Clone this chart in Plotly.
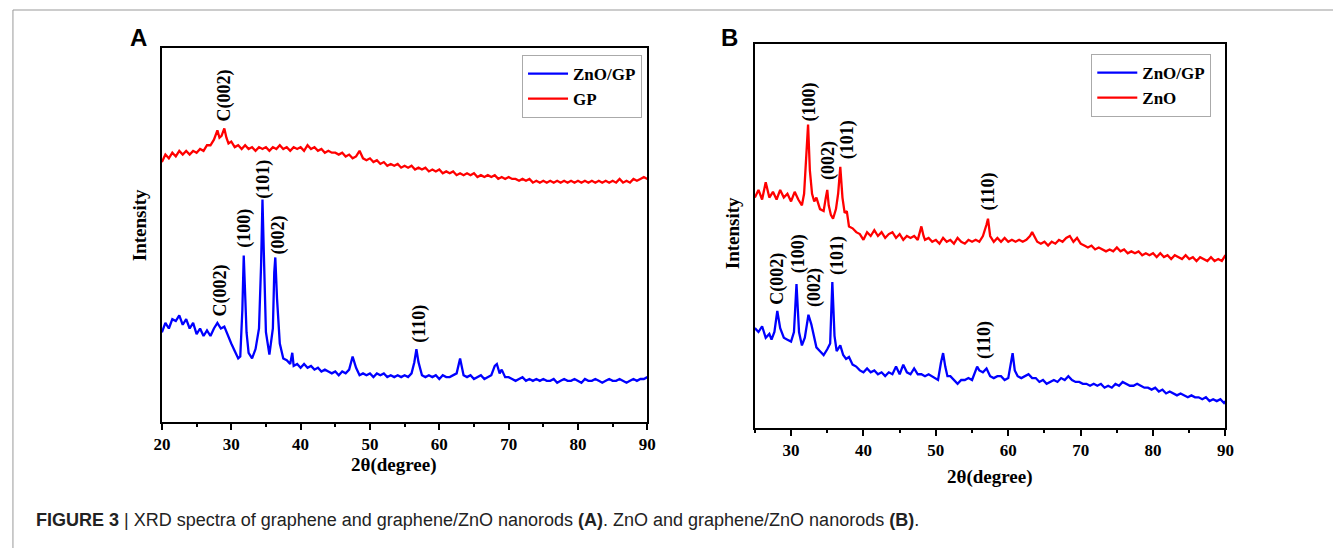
import plotly.graph_objects as go

# ---------------- data (2theta in degrees, intensity in arbitrary units) ----------------
# Panel A : ZnO/GP (blue)
a_znogp = [
    (20, 24), (20.5, 26.5), (21, 25), (21.5, 27.5), (22, 27), (22.5, 28.5), (23, 26), (23.5, 27.5),
    (24, 25), (24.5, 26.5), (25, 23.5), (25.5, 25), (26, 23), (26.5, 24.5), (27, 23), (27.5, 25),
    (28, 26.5), (28.5, 25), (29, 25.5), (29.5, 23), (30, 21), (30.5, 19), (31, 17), (31.3, 17.5),
    (31.6, 30), (31.8, 44.5), (32.0, 36), (32.2, 24), (32.5, 18.5), (33, 17), (33.5, 19.5),
    (34.0, 25), (34.3, 42), (34.5, 59.5), (34.7, 45), (35.0, 24), (35.5, 18), (36.0, 25),
    (36.2, 40), (36.35, 44), (36.6, 33), (37.0, 21), (37.5, 17), (38, 16.5), (38.5, 15.5),
    (38.8, 18.5), (39, 15), (39.5, 15.5), (40, 14.5), (40.5, 15.5), (41, 14.5), (41.5, 15),
    (42, 14), (42.5, 14.5), (43, 13.5), (43.5, 14), (44, 13.5), (44.5, 13), (45, 13.5), (45.5, 12.5),
    (46, 13.5), (46.5, 13), (47, 14), (47.5, 17.5), (48, 14.5), (48.5, 12.5), (49, 13), (49.5, 12.5),
    (50, 13), (50.5, 12), (51, 13), (51.5, 12.5), (52, 13), (52.5, 12), (53, 12.5), (53.5, 12),
    (54, 12.5), (54.5, 12), (55, 12.5), (55.5, 12), (56, 13), (56.4, 16), (56.7, 19.5), (57, 16),
    (57.5, 12.5), (58, 12), (58.5, 12.5), (59, 12), (59.5, 12.5), (60, 11.5), (60.5, 12.5), (61, 12),
    (61.5, 12), (62, 12.5), (62.5, 13), (63, 17), (63.3, 14), (63.5, 12.5), (64, 12), (64.5, 12.5),
    (65, 11.5), (65.5, 12), (66, 12.5), (66.5, 11.5), (67, 12), (67.5, 12.5), (68, 15), (68.3, 15.5),
    (68.7, 13), (69, 14), (69.5, 12), (70, 12), (70.5, 11.5), (71, 11), (71.5, 11.5), (72, 12),
    (72.5, 11), (73, 11.5), (73.5, 11), (74, 11.5), (74.5, 11), (75, 11.5), (75.5, 11), (76, 11),
    (76.5, 11.5), (77, 10.5), (77.5, 11), (78, 11.5), (78.5, 11), (79, 11), (79.5, 11.5), (80, 11),
    (80.5, 10.5), (81, 11.5), (81.5, 11), (82, 11), (82.5, 11.5), (83, 11), (83.5, 10.5), (84, 11),
    (84.5, 11.5), (85, 11), (85.5, 11), (86, 11.5), (86.5, 11), (87, 10.5), (87.5, 11), (88, 11.5),
    (88.5, 11), (89, 11.5), (89.5, 11.5), (90, 12),
]

# Panel A : GP (red)
a_gp = [
    (20, 69.5), (20.5, 71.5), (21, 70.5), (21.5, 72), (22, 71), (22.5, 72.5), (23, 71.5), (23.5, 72.5),
    (24, 71.5), (24.5, 72.5), (25, 72), (25.5, 73), (26, 72.5), (26.5, 74), (27, 74), (27.5, 75.5),
    (28, 78), (28.3, 76), (28.6, 76.5), (29, 78.5), (29.3, 76), (29.6, 74.5), (30, 75), (30.5, 73.5),
    (31, 74), (31.5, 73), (32, 74), (32.5, 73), (33, 73.5), (33.5, 72.5), (34, 73.5), (34.5, 73),
    (35, 73.5), (35.5, 72.5), (36, 73.5), (36.5, 73), (37, 74), (37.5, 73), (38, 73.5), (38.5, 72.5),
    (39, 73.5), (39.5, 73), (40, 73.5), (40.5, 72.5), (41, 74), (41.5, 73), (42, 73.5), (42.5, 72.5),
    (43, 73), (43.5, 72), (44, 72.5), (44.5, 72), (45, 72), (45.5, 71.5), (46, 72), (46.5, 71),
    (47, 71.5), (47.5, 70.5), (48, 71), (48.5, 72.5), (49, 70.5), (49.5, 70), (50, 70.5), (50.5, 69.5),
    (51, 70), (51.5, 69), (52, 69.5), (52.5, 68.5), (53, 69), (53.5, 68.5), (54, 69), (54.5, 68),
    (55, 68.5), (55.5, 68), (56, 68.5), (56.5, 67.5), (57, 68), (57.5, 67.5), (58, 68), (58.5, 67),
    (59, 67.5), (59.5, 67), (60, 67.5), (60.5, 66.5), (61, 67), (61.5, 66.5), (62, 67), (62.5, 66),
    (63, 66.5), (63.5, 66), (64, 66.5), (64.5, 66), (65, 66.5), (65.5, 65.5), (66, 66), (66.5, 65.5),
    (67, 66), (67.5, 65.5), (68, 66), (68.5, 65), (69, 65.5), (69.5, 65), (70, 65.5), (70.5, 65),
    (71, 65), (71.5, 64.5), (72, 65), (72.5, 64.5), (73, 65), (73.5, 64), (74, 64.5), (74.5, 64),
    (75, 64.5), (75.5, 64), (76, 64.5), (76.5, 64), (77, 64.5), (77.5, 64), (78, 64.5), (78.5, 64),
    (79, 64.5), (79.5, 64), (80, 64.5), (80.5, 64), (81, 64.5), (81.5, 64), (82, 64.5), (82.5, 64),
    (83, 64.5), (83.5, 64), (84, 64.5), (84.5, 64), (85, 64.5), (85.5, 64), (86, 65), (86.5, 64),
    (87, 64.5), (87.5, 64), (88, 65), (88.5, 64.5), (89, 65), (89.5, 65.5), (90, 65),
]

# Panel B : ZnO/GP (blue)
b_znogp = [
    (25, 26), (25.5, 25), (26, 26.5), (26.5, 23.5), (27, 24.5), (27.3, 23), (27.7, 25), (28.1, 30.5),
    (28.5, 26), (29, 23.5), (29.5, 23), (30, 22.5), (30.4, 25), (30.75, 37.5), (31.1, 25), (31.5, 21.5),
    (31.9, 23.5), (32.4, 29.5), (32.8, 27), (33.2, 23), (33.5, 21), (34, 20), (34.5, 19), (35, 20.5),
    (35.4, 22), (35.7, 38), (36.0, 24), (36.3, 20), (36.8, 21.5), (37.2, 19), (37.6, 18), (38, 18.5),
    (38.5, 16.5), (39, 16), (39.5, 15), (40, 14.5), (40.5, 15.5), (41, 14.5), (41.5, 15), (42, 14),
    (42.5, 14.5), (43, 13.5), (43.5, 14.5), (44, 14), (44.5, 16), (45, 14), (45.5, 16.5), (46, 14.5),
    (46.5, 14), (47, 15.5), (47.5, 14), (48, 14), (48.5, 13.5), (49, 14), (49.5, 13.5), (50, 13),
    (50.3, 12.5), (50.7, 17), (51.0, 19.5), (51.3, 16), (51.6, 13.5), (52, 13.5), (52.5, 12.5),
    (53, 11.5), (53.5, 12.5), (54, 12.5), (54.5, 13), (55, 12.5), (55.4, 14.5), (55.7, 16), (56.0, 15),
    (56.5, 14.5), (57, 15.5), (57.5, 13.5), (58, 13), (58.5, 13.5), (59, 13.5), (59.5, 12.5), (60, 13),
    (60.3, 16), (60.6, 19.5), (60.9, 15), (61.3, 13.5), (61.8, 13), (62.3, 13.5), (62.8, 14), (63.3, 13),
    (63.8, 13), (64.3, 12), (64.8, 12.5), (65.3, 11.5), (65.8, 12), (66.3, 12.5), (66.8, 12), (67.3, 13),
    (67.8, 12.5), (68.3, 13.5), (68.8, 12.5), (69.3, 12), (69.8, 12), (70.3, 11.5), (70.8, 11.5),
    (71.3, 11), (71.8, 11.5), (72.3, 11), (72.8, 11.5), (73.3, 10.5), (73.8, 11), (74.3, 10.5),
    (74.8, 11.5), (75.3, 11), (75.8, 12), (76.3, 11.5), (76.8, 11), (77.3, 11), (77.8, 11.5), (78.3, 11),
    (78.8, 10.5), (79.3, 10.5), (79.8, 10), (80.3, 10.5), (80.8, 9.5), (81.3, 10), (81.8, 9), (82.3, 9.5),
    (82.8, 9), (83.3, 8.5), (83.8, 9), (84.3, 8.5), (84.8, 8), (85.3, 8.5), (85.8, 8), (86.3, 8),
    (86.8, 7.5), (87.3, 8), (87.8, 7), (88.3, 7.5), (88.8, 7), (89.3, 7.5), (89.8, 6.5), (90, 7),
]

# Panel B : ZnO (red)
b_zno = [
    (25, 60), (25.5, 62), (26, 59.5), (26.5, 64), (27, 60), (27.5, 61.5), (28, 59.5), (28.5, 62),
    (29, 60), (29.5, 61), (30, 59), (30.5, 61.5), (31, 59.5), (31.5, 58), (31.8, 61), (32.1, 70),
    (32.35, 79), (32.6, 67), (32.9, 61), (33.2, 59), (33.5, 60), (34, 57), (34.5, 56.5), (34.8, 60),
    (35.0, 62), (35.2, 58), (35.5, 55.5), (35.8, 54.5), (36.2, 57), (36.5, 61), (36.8, 68), (37.1, 60),
    (37.4, 56), (37.7, 56.5), (38, 52.5), (38.5, 52), (39, 51), (39.5, 50.5), (40, 49), (40.5, 51),
    (41, 50), (41.5, 51.5), (42, 50), (42.5, 51), (43, 49.5), (43.5, 50.5), (44, 51), (44.5, 49.5),
    (45, 50.5), (45.5, 49), (46, 50), (46.5, 49.5), (47, 50), (47.5, 49), (48, 52.5), (48.3, 50),
    (48.5, 49), (49, 49.5), (49.5, 48.5), (50, 49), (50.5, 48), (51, 49.5), (51.5, 48.5), (52, 49),
    (52.5, 48), (53, 49.5), (53.5, 48.5), (54, 48), (54.5, 49), (55, 48.5), (55.5, 49), (56, 48.5),
    (56.5, 50), (57, 53), (57.2, 54.5), (57.5, 50), (58, 48.5), (58.5, 49.5), (59, 48.5), (59.5, 49.5),
    (60, 48.5), (60.5, 49), (61, 48.5), (61.5, 49), (62, 48.5), (62.5, 49), (63, 50), (63.3, 51),
    (63.7, 49.5), (64, 48.5), (64.5, 48), (65, 48.5), (65.5, 47.5), (66, 48.5), (66.5, 48), (67, 49),
    (67.5, 48.5), (68, 49.5), (68.5, 50), (69, 48.5), (69.5, 49.5), (70, 48), (70.5, 47.5), (71, 47),
    (71.5, 47.5), (72, 46.5), (72.5, 47), (73, 46.5), (73.5, 46), (74, 46.5), (74.5, 46), (75, 47),
    (75.5, 46), (76, 46.5), (76.5, 45.5), (77, 46), (77.5, 45.5), (78, 46), (78.5, 45), (79, 45.5),
    (79.5, 45), (80, 45.5), (80.5, 44.5), (81, 45.5), (81.5, 44.5), (82, 45), (82.5, 44), (83, 45),
    (83.5, 44.5), (84, 44), (84.5, 45), (85, 44), (85.5, 44.5), (86, 43.5), (86.5, 44.5), (87, 44),
    (87.5, 43.5), (88, 44.5), (88.5, 43.5), (89, 44), (89.5, 43.5), (90, 45),
]

# peak labels: (text, 2theta, intensity)
a_labels = [("C(002)", 29.0, 87.4), ("(101)", 34.7, 65.0), ("(100)", 32.0, 51.7),
            ("(002)", 36.8, 50.0), ("C(002)", 28.4, 35.2), ("(110)", 57.1, 26.3)]
b_labels = [("(100)", 32.5, 84.8), ("(002)", 35.2, 69.7), ("(101)", 37.8, 75.1),
            ("(110)", 57.2, 61.6), ("C(002)", 28.2, 38.9), ("(100)", 31.05, 45.4),
            ("(002)", 33.25, 36.6), ("(101)", 36.4, 44.9), ("(110)", 56.7, 23.0)]

x_ticks = [20, 30, 40, 50, 60, 70, 80, 90]

# ---------------- figure ----------------
W, H = 1342, 548
SERIF = "Liberation Serif"
BLUE, RED = "#0000ff", "#ff0000"


def px(x):
    return x / W


def py(y):
    return 1 - y / H


fig = go.Figure()


def add_series(pts, name, color, xa, ya, legend):
    xs = [p[0] for p in pts]
    ys = [p[1] for p in pts]
    fig.add_trace(go.Scatter(x=xs, y=ys, mode="lines", name=name, xaxis=xa, yaxis=ya,
                             line=dict(color=color, width=2.3), legend=legend))


add_series(a_znogp, "ZnO/GP", BLUE, "x", "y", "legend")
add_series(a_gp, "GP", RED, "x", "y", "legend")
add_series(b_znogp, "ZnO/GP", BLUE, "x2", "y2", "legend2")
add_series(b_zno, "ZnO", RED, "x2", "y2", "legend2")

tickfont = dict(family=SERIF, size=17, color="black", weight="bold")
common_x = dict(showline=True, linecolor="black", linewidth=2, mirror=True, ticks="outside",
                ticklen=6, tickwidth=2, tickcolor="black", tickvals=x_ticks, tickfont=tickfont,
                showgrid=False, zeroline=False, ticklabelstandoff=0,
                minor=dict(dtick=5, tick0=0, ticks="outside", ticklen=3, tickwidth=1.5,
                           tickcolor="black", showgrid=False))
common_y = dict(showline=True, linecolor="black", linewidth=2, mirror=True, ticks="",
                showticklabels=False, showgrid=False, zeroline=False, range=[0, 100])

legfont = dict(family=SERIF, size=17, weight="bold", color="black")
fig.update_layout(
    width=W, height=H, margin=dict(l=0, r=0, t=0, b=0, pad=0),
    paper_bgcolor="white", plot_bgcolor="white",
    font=dict(family=SERIF, color="black"),
    xaxis=dict(common_x, domain=[px(155), px(647)], range=[20, 90], anchor="y"),
    yaxis=dict(common_y, domain=[py(422), py(48)], anchor="x"),
    xaxis2=dict(common_x, domain=[px(756), px(1233)], range=[25, 90], anchor="y2"),
    yaxis2=dict(common_y, domain=[py(428), py(44)], anchor="x2"),
    legend=dict(x=px(520), y=py(55), xanchor="left", yanchor="top", bordercolor="#aaaaaa",
                borderwidth=1, bgcolor="white", font=legfont, tracegroupgap=0, itemwidth=40),
    legend2=dict(x=px(1097), y=py(54), xanchor="left", yanchor="top", bordercolor="#aaaaaa",
                 borderwidth=1, bgcolor="white", font=legfont, tracegroupgap=0, itemwidth=40),
    showlegend=True,
)

ann = []
lab_font = dict(family=SERIF, size=18, color="black", weight="bold")
for text, xv, yv in a_labels:
    ann.append(dict(text=text, x=xv, y=yv, xref="x", yref="y", textangle=-90, showarrow=False,
                    xanchor="center", yanchor="middle", font=lab_font))
for text, xv, yv in b_labels:
    ann.append(dict(text=text, x=xv, y=yv, xref="x2", yref="y2", textangle=-90, showarrow=False,
                    xanchor="center", yanchor="middle", font=lab_font))

title_font = dict(family=SERIF, size=19, color="black", weight="bold")


def paper_text(text, x, y, font, angle=0, xanchor="center"):
    ann.append(dict(text=text, x=px(x), y=py(y), xref="paper", yref="paper", showarrow=False,
                    textangle=angle, xanchor=xanchor, yanchor="middle", font=font))


# axis titles
paper_text("2θ(degree)", 390, 465, title_font)
paper_text("2θ(degree)", 994, 477, title_font)
paper_text("Intensity", 132, 225, title_font, angle=-90)
paper_text("Intensity", 733, 233, title_font, angle=-90)
# panel letters
letter_font = dict(family="Liberation Sans", size=24, color="black", weight="bold")
paper_text("A", 131, 37, letter_font)
paper_text("B", 730, 37, letter_font)
# caption
paper_text("<b>FIGURE 3</b> | XRD spectra of graphene and graphene/ZnO nanorods <b>(A)</b>. "
           "ZnO and graphene/ZnO nanorods <b>(B)</b>.", 25, 520,
           dict(family="Liberation Sans", size=18, color="#222222"), xanchor="left")
fig.update_layout(annotations=ann)

# frame lines of the figure panel
fig.add_shape(type="line", xref="paper", yref="paper", x0=px(4), x1=1, y0=py(10), y1=py(10),
              line=dict(color="#999999", width=1))
fig.add_shape(type="line", xref="paper", yref="paper", x0=px(4), x1=px(4), y0=py(10), y1=0,
              line=dict(color="#999999", width=1))

fig.write_html("out.html", config={"responsive": False, "displayModeBar": False},
               post_script="document.body.style.margin='0px';document.body.style.overflow='hidden';")
